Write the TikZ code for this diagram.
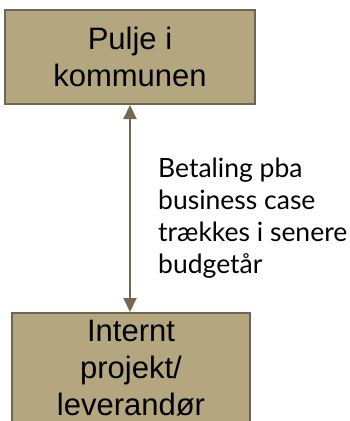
\documentclass[tikz,border=0pt]{standalone}
\usepackage{fontspec}
\setmainfont{Liberation Sans}
\newfontfamily\latofont{Lato}
\usetikzlibrary{arrows.meta, positioning}
\definecolor{boxfill}{HTML}{B4A77F}
\definecolor{boxline}{HTML}{6F6550}
\definecolor{arrowcol}{HTML}{736850}

\begin{document}
\begin{tikzpicture}[x=1pt, y=-1pt,
  box/.style = {draw=boxline, line width=2pt, fill=boxfill, align=center,
    font=\fontsize{31}{37}\selectfont, inner sep=0pt},
  link/.style = {draw=arrowcol, line width=2pt,
    {Triangle[width=13pt,length=14pt]}-{Triangle[width=13pt,length=14pt]}}]
\clip (0,0) rectangle (350,421);
\node[box, minimum width=250pt, minimum height=94pt](pool) at (130,57) {Pulje i\\kommunen};
\node[box, minimum width=238pt, minimum height=110pt, anchor=north](proj) at (131,312) {Internt\\projekt/\\leverandør};
\node[anchor=base west, align=left, inner sep=0pt, font=\latofont\fontsize{26.5}{32}\selectfont](pay) at (158,273)
  {Betaling pba\\business case\\trækkes i senere\\budgetår};
\draw[link] (pool.south) -- (pool.south |- proj.north);
\end{tikzpicture}
\end{document}
